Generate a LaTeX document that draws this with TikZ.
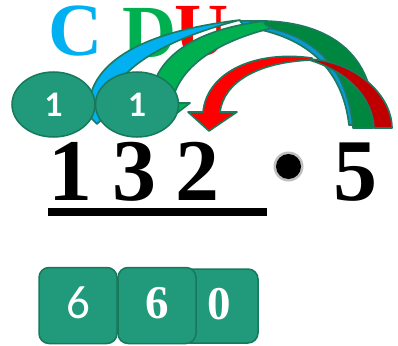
\documentclass[tikz,border=0pt]{standalone}
\usepackage{fontspec}
\setmainfont{Liberation Serif}
\newfontfamily\carl{Carlito}
\usetikzlibrary{shapes.geometric}
\definecolor{outl}{HTML}{1B7A5E}
\definecolor{tealbox}{HTML}{209A7A}
\definecolor{tealedge}{HTML}{17785B}
\definecolor{cyanA}{HTML}{00B0F0}
\definecolor{cyanB}{HTML}{0A98CF}
\definecolor{greenA}{HTML}{00B050}
\definecolor{greenB}{HTML}{00873F}
\definecolor{redA}{HTML}{FF0000}
\definecolor{redB}{HTML}{C00000}
\begin{document}
\begin{tikzpicture}[x=1pt,y=-1pt,
  letter/.style={anchor=base,inner sep=0pt,font=\bfseries\fontsize{75}{75}\selectfont},
  digit/.style={anchor=base,inner sep=0pt,font=\bfseries\fontsize{88}{88}\selectfont},
  arrowpart/.style={draw=outl,line width=1.6pt,line join=round},
  oval/.style={ellipse,fill=tealbox,draw=tealedge,line width=1.5pt,minimum width=83pt,minimum height=65pt,inner sep=0pt,text=white,font=\carl\bfseries\fontsize{36}{36}\selectfont},
  box/.style={rectangle,rounded corners=10pt,fill=tealbox,draw=tealedge,line width=1.5pt,minimum width=78pt,minimum height=76pt,inner sep=0pt,text=white,text depth=5pt},
  serifnum/.style={font=\bfseries\fontsize{47}{47}\selectfont},
  sansnum/.style={font=\carl\fontsize{47}{47}\selectfont}]
\useasboundingbox (0,0) rectangle (398,345);
% letters C D U
\node[letter,text=cyanA] (lc) at (76,56) {C};
\node[letter,text=greenA] (ld) at (150,57) {D};
\node[letter,text=redA] (lu) at (202,56) {U};
% cyan arrow
\path[arrowpart,fill=cyanB] (240,21) .. controls (330,18) and (370,70) .. (370,125) -- (349,125) .. controls (343,72) and (310,36) .. (245,27) -- cycle;
\path[arrowpart,fill=cyanA] (89,103) .. controls (93,68) and (130,33) .. (240,20) .. controls (170,38) and (118,66) .. (108,103) -- (120,103) -- (97,124) -- (76,103) -- cycle;
% green arrow
\path[arrowpart,fill=greenB] (250,21) .. controls (335,18) and (378,60) .. (373,128) -- (353,128) .. controls (348,70) and (315,32) .. (255,26) -- cycle;
\path[arrowpart,fill=greenA] (150,103) .. controls (152,60) and (190,30) .. (265,21) .. controls (262,24) and (268,26) .. (272,28) .. controls (215,42) and (178,68) .. (172,103) -- (190,103) -- (163,124) -- (135,103) -- cycle;
% red arrow
\path[arrowpart,fill=redB] (306,59) .. controls (355,60) and (392,95) .. (392,128) -- (374,128) .. controls (372,95) and (345,70) .. (306,59) -- cycle;
\path[arrowpart,fill=redA] (312,58) .. controls (255,50) and (207,72) .. (203,112) -- (188,112) -- (209,131) -- (237,112) -- (220,112) .. controls (224,82) and (258,62) .. (312,60) -- cycle;
% ovals
\node[oval] (o1) at (53.5,104.5) {1};
\node[oval] (o2) at (137,104.5) {1};
% number 132 . 5
\node[digit] (n1) at (70,200) {1};
\node[digit] (n3) at (134,200) {3};
\node[digit] (n2) at (197.5,200) {2};
\node[digit] (n5) at (355,200) {5};
\fill[black!25] (288.5,166.5) circle (15);
\fill[black] (288.5,166.5) circle (12.5);
\fill[black] (48,208) rectangle (267,216);
% result boxes
\node[box,minimum height=74pt,serifnum] (b3) at (219,306) {0};
\node[box,serifnum] (b2) at (157,305.5) {6};
\node[box,sansnum] (b1) at (78,305.5) {6};
\end{tikzpicture}
\end{document}
